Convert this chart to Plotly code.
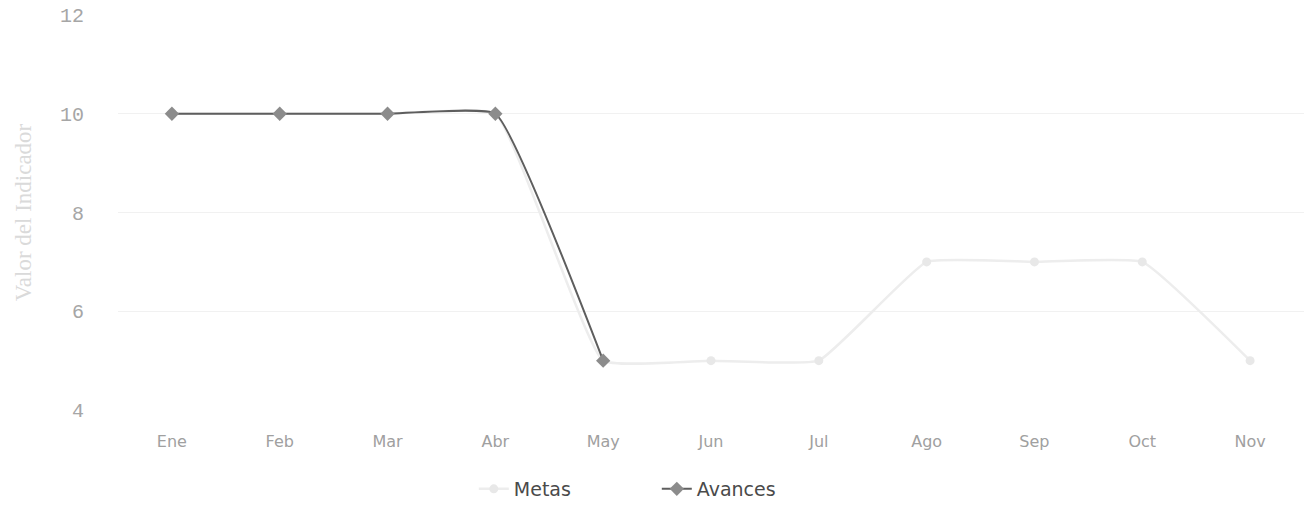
import plotly.graph_objects as go

months = ["Ene", "Feb", "Mar", "Abr", "May", "Jun", "Jul", "Ago", "Sep", "Oct", "Nov"]
metas = [10, 10, 10, 10, 5, 5, 5, 7, 7, 7, 5]
avances_months = ["Ene", "Feb", "Mar", "Abr", "May"]
avances = [10, 10, 10, 10, 5]
y_ticks = [4, 6, 8, 10, 12]

fig = go.Figure()
fig.add_trace(go.Scatter(
    x=months, y=metas, name="Metas", mode="lines+markers",
    line=dict(color="#ededed", width=2.5, shape="spline", smoothing=0.35),
    marker=dict(symbol="circle", size=9, color="#e8e8e8"),
))
fig.add_trace(go.Scatter(
    x=avances_months, y=avances, name="Avances", mode="lines+markers",
    line=dict(color="#5e5e5e", width=2, shape="spline", smoothing=0.35),
    marker=dict(symbol="diamond", size=11, color="#8c8c8c"),
))

fig.update_layout(
    width=1311, height=506,
    margin=dict(l=118, r=7, t=15, b=96, autoexpand=False),
    paper_bgcolor="white", plot_bgcolor="white",
    showlegend=True,
    legend=dict(orientation="h", x=0.3, xanchor="left", y=-0.2, yanchor="middle",
                font=dict(family="DejaVu Sans", size=19, color="#4a4a4a"),
                entrywidth=138, entrywidthmode="pixels"),
    xaxis=dict(type="category", categoryorder="array", categoryarray=months,
               range=[-0.5, len(months) - 0.5],
               showgrid=False, showline=False, zeroline=False, automargin=False,
               tickfont=dict(family="DejaVu Sans", size=16, color="#a0a0a0"),
               ticks="", ticklabelstandoff=20),
    yaxis=dict(range=[4, 12], tickvals=y_ticks, showgrid=True, gridcolor="#f1f1f1",
               gridwidth=1, zeroline=False, showline=False, automargin=False,
               tickfont=dict(family="Liberation Mono", size=20, color="#a6a6a6"),
               ticks="", ticklabelstandoff=33,
               title=dict(text="Valor del Indicador", standoff=21,
                          font=dict(family="Liberation Serif", size=23, color="#dadada"))),
)

fig.write_html("out.html", config={"displayModeBar": False},
               post_script="document.body.style.margin='0';")
